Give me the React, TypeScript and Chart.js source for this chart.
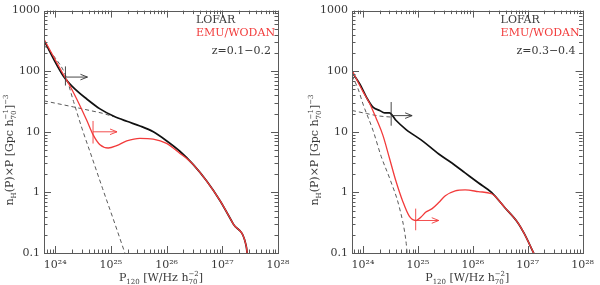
import React, { useEffect, useRef } from 'react';
import { Chart, registerables } from 'chart.js';

Chart.register(...registerables);

// ---------- axis ranges & tick labels ----------
const X_MIN = 6.31e23;
const X_MAX = 1e28;
const Y_MIN = 0.1;
const Y_MAX = 1000;
const xTickValues = [1e24, 1e25, 1e26, 1e27, 1e28];
const xTickLabels = ['10²⁴', '10²⁵', '10²⁶', '10²⁷', '10²⁸'];
const yTickValues = [0.1, 1, 10, 100, 1000];
const yTickLabels = ['0.1', '1', '10', '100', '1000'];

// ---------- panel 1 : z = 0.1-0.2 ----------
const lofarP_z1 = [6.31e23, 1.40e24, 2.44e24, 3.69e24, 6.38e24, 1.11e25, 1.93e25, 3.33e25, 5.78e25, 1.01e26, 1.75e26, 3.02e26, 5.25e26, 9.12e26, 1.58e27, 2.7e27, 2.8e27];
const lofarN_z1 = [321, 83.5, 47.7, 34.8, 23.9, 18.2, 14.9, 12.5, 10.0, 7.06, 4.73, 2.87, 1.54, 0.73, 0.30, 0.127, 0.098];
const emuP_z1 = [6.31e23, 1.40e24, 1.85e24, 2.79e24, 3.69e24, 4.84e24, 6.38e24, 9.0e24, 1.27e25, 1.93e25, 3.31e25, 5.75e25, 1.0e26, 1.74e26, 2.5e26, 3.02e26, 5.25e26, 9.12e26, 1.58e27, 2.7e27, 2.8e27];
const emuN_z1 = [337, 89, 57, 27, 15.5, 8.8, 6.1, 5.4, 5.9, 7.06, 7.8, 7.6, 6.45, 4.4, 3.4, 2.87, 1.54, 0.73, 0.30, 0.127, 0.098];
const steepP_z1 = [6.31e23, 1e24, 1.51e24, 2.14e24, 3.02e24, 4.57e24, 7.08e24, 1.12e25, 1.82e25];
const steepN_z1 = [269, 166, 89, 31.6, 11.5, 3.8, 1.17, 0.35, 0.095];
const flatP_z1 = [6.31e23, 2.14e24, 4.27e24, 7.41e24, 1.1e25];
const flatN_z1 = [32.4, 25.7, 22.4, 20, 17.8];
const markers_z1 = [
  { x: 1.53e24, y: 80, xEnd: 3.8e24, yLo: 58, yHi: 120, red: false },
  { x: 4.79e24, y: 10, xEnd: 1.29e25, yLo: 6.4, yHi: 15.1, red: true },
];

// ---------- panel 2 : z = 0.3-0.4 ----------
const lofarP_z2 = [6.31e23, 8.79e23, 1.16e24, 1.52e24, 2.01e24, 2.47e24, 3.03e24, 3.98e24, 6.03e24, 1.26e25, 2.4e25, 4.17e25, 7.24e25, 1.26e26, 2.19e26, 3.78e26, 6.56e26, 8.63e26, 1.31e27];
const lofarN_z2 = [97, 61, 37, 25.5, 22.5, 20.6, 20.6, 15.5, 11, 6.9, 4.3, 3.06, 2.1, 1.44, 1.0, 0.57, 0.32, 0.21, 0.096];
const emuP_z2 = [6.31e23, 1.0e24, 1.33e24, 1.75e24, 2.3e24, 3.03e24, 3.98e24, 5.25e24, 6.92e24, 9.12e24, 1.2e25, 1.38e25, 1.82e25, 2.4e25, 3.16e25, 4.79e25, 7.24e25, 1.26e26, 2.19e26, 2.51e26, 3.78e26, 6.56e26, 8.63e26, 1.31e27];
const emuN_z2 = [103, 46, 29, 16.4, 8.8, 3.7, 1.54, 0.73, 0.41, 0.344, 0.41, 0.47, 0.54, 0.68, 0.88, 1.06, 1.1, 1.03, 0.95, 0.87, 0.57, 0.32, 0.21, 0.096];
const steepP_z2 = [6.31e23, 8.18e23, 1.0e24, 1.52e24, 2.15e24, 3.16e24, 4.59e24, 6.05e24, 6.4e24];
const steepN_z2 = [84, 50.6, 28.8, 10.6, 3.9, 1.58, 0.57, 0.16, 0.095];
const flatP_z2 = [6.31e23, 1.16e24, 2.0e24, 3.26e24];
const flatN_z2 = [22.5, 20, 18.2, 17.5];
const markers_z2 = [
  { x: 3.26e24, y: 18.5, xEnd: 7.85e24, yLo: 12.6, yHi: 31, red: false },
  { x: 9.12e24, y: 0.344, xEnd: 2.4e25, yLo: 0.237, yHi: 0.54, red: true },
];

// ---------- styles ----------
const FONT = '"DejaVu Serif", serif';
const AXIS_COLOR = '#5a5a5a';
const TEXT_COLOR = '#3a3a3a';
const RED = '#f23b3b';
const BLACK = '#111111';
const DASH = '#5a5a5a';

type Seg = { t: string; sub?: string; sup?: string };
const xTitle: Seg[] = [{ t: 'P', sub: '120' }, { t: ' [W/Hz h', sub: '70', sup: '−2' }, { t: ']' }];
const yTitle: Seg[] = [{ t: 'n', sub: 'H' }, { t: '(P)×P [Gpc h', sub: '70', sup: '−1' }, { t: ']', sup: '−3' }];

function richWidth(ctx: CanvasRenderingContext2D, segs: Seg[], size: number) {
  let w = 0;
  for (const s of segs) {
    ctx.font = `${size}px ${FONT}`;
    w += ctx.measureText(s.t).width;
    ctx.font = `${Math.round(size * 0.68)}px ${FONT}`;
    const a = s.sub ? ctx.measureText(s.sub).width : 0;
    const b = s.sup ? ctx.measureText(s.sup).width : 0;
    w += Math.max(a, b);
  }
  return w;
}

function drawRich(ctx: CanvasRenderingContext2D, segs: Seg[], cx: number, y: number, size: number) {
  let x = cx - richWidth(ctx, segs, size) / 2;
  ctx.textAlign = 'left';
  ctx.textBaseline = 'alphabetic';
  for (const s of segs) {
    ctx.font = `${size}px ${FONT}`;
    ctx.fillText(s.t, x, y);
    x += ctx.measureText(s.t).width;
    ctx.font = `${Math.round(size * 0.68)}px ${FONT}`;
    let w = 0;
    if (s.sub) { ctx.fillText(s.sub, x, y + size * 0.3); w = ctx.measureText(s.sub).width; }
    if (s.sup) { ctx.fillText(s.sup, x, y - size * 0.42); w = Math.max(w, ctx.measureText(s.sup).width); }
    x += w;
  }
}

type PanelCfg = {
  lofarP: number[]; lofarN: number[]; emuP: number[]; emuN: number[];
  steepP: number[]; steepN: number[]; flatP: number[]; flatN: number[];
  markers: { x: number; y: number; xEnd: number; yLo: number; yHi: number; red: boolean }[];
  zLabel: string; yAxisWidth: number; padRight: number; yTitleX: number;
};

const pairs = (xs: number[], ys: number[]) => xs.map((x, i) => ({ x, y: ys[i] }));

function makePlugin(cfg: PanelCfg) {
  return {
    id: 'decor',
    afterDraw(chart: any) {
      const ctx: CanvasRenderingContext2D = chart.ctx;
      const { left, right, top, bottom } = chart.chartArea;
      const xs = chart.scales.x;
      const ys = chart.scales.y;
      ctx.save();
      // frame
      ctx.strokeStyle = AXIS_COLOR;
      ctx.lineWidth = 1;
      ctx.strokeRect(Math.round(left) + 0.5, Math.round(top) + 0.5, Math.round(right - left), Math.round(bottom - top));
      // inward ticks on four sides
      ctx.beginPath();
      for (let e = 23; e <= 28; e++) {
        for (let m = 1; m <= 9; m++) {
          const v = m * Math.pow(10, e);
          if (v < X_MIN * 0.999 || v > X_MAX * 1.001) continue;
          const px = Math.round(xs.getPixelForValue(v)) + 0.5;
          const len = m === 1 ? 7 : 3.5;
          ctx.moveTo(px, bottom); ctx.lineTo(px, bottom - len);
          ctx.moveTo(px, top); ctx.lineTo(px, top + len);
        }
      }
      for (let e = -1; e <= 3; e++) {
        for (let m = 1; m <= 9; m++) {
          const v = m * Math.pow(10, e);
          if (v < Y_MIN * 0.999 || v > Y_MAX * 1.001) continue;
          const py = Math.round(ys.getPixelForValue(v)) + 0.5;
          const len = m === 1 ? 7 : 3.5;
          ctx.moveTo(left, py); ctx.lineTo(left + len, py);
          ctx.moveTo(right, py); ctx.lineTo(right - len, py);
        }
      }
      ctx.stroke();
      // limit markers with arrows
      for (const mk of cfg.markers) {
        const x0 = xs.getPixelForValue(mk.x);
        const x1 = xs.getPixelForValue(mk.xEnd);
        const y0 = ys.getPixelForValue(mk.y);
        ctx.strokeStyle = mk.red ? RED : '#333';
        ctx.lineWidth = 0.9;
        ctx.beginPath();
        ctx.moveTo(x0, ys.getPixelForValue(mk.yHi));
        ctx.lineTo(x0, ys.getPixelForValue(mk.yLo));
        ctx.moveTo(x0, y0);
        ctx.lineTo(x1, y0);
        ctx.moveTo(x1 - 7, y0 - 2.8);
        ctx.lineTo(x1, y0);
        ctx.lineTo(x1 - 7, y0 + 2.8);
        ctx.stroke();
      }
      // legend texts
      ctx.textBaseline = 'alphabetic';
      ctx.font = `11px ${FONT}`;
      const emuW = ctx.measureText('EMU/WODAN').width;
      const lx = right - 3 - emuW;
      ctx.textAlign = 'left';
      ctx.fillStyle = TEXT_COLOR;
      ctx.fillText('LOFAR', lx, top + 12);
      ctx.fillStyle = RED;
      ctx.fillText('EMU/WODAN', lx, top + 25);
      ctx.fillStyle = TEXT_COLOR;
      ctx.textAlign = 'right';
      ctx.fillText(cfg.zLabel, right - 7, top + 43);
      // axis titles
      ctx.fillStyle = TEXT_COLOR;
      drawRich(ctx, xTitle, (left + right) / 2, 281, 11);
      ctx.translate(cfg.yTitleX, 150);
      ctx.rotate(-Math.PI / 2);
      drawRich(ctx, yTitle, 0, 4, 11);
      ctx.restore();
    },
  };
}

function Panel({ cfg }: { cfg: PanelCfg }) {
  const ref = useRef<HTMLCanvasElement | null>(null);
  useEffect(() => {
    if (!ref.current) return;
    const chart = new Chart(ref.current, {
      type: 'line',
      data: {
        datasets: [
          { data: pairs(cfg.emuP, cfg.emuN), borderColor: RED, borderWidth: 1.3, pointRadius: 0, cubicInterpolationMode: 'monotone', fill: false },
          { data: pairs(cfg.lofarP, cfg.lofarN), borderColor: BLACK, borderWidth: 1.7, pointRadius: 0, cubicInterpolationMode: 'monotone', fill: false },
          { data: pairs(cfg.steepP, cfg.steepN), borderColor: DASH, borderWidth: 1, borderDash: [4, 3], pointRadius: 0, cubicInterpolationMode: 'monotone', fill: false },
          { data: pairs(cfg.flatP, cfg.flatN), borderColor: DASH, borderWidth: 1, borderDash: [4, 3], pointRadius: 0, cubicInterpolationMode: 'monotone', fill: false },
        ],
      } as any,
      options: {
        animation: false,
        responsive: false,
        devicePixelRatio: 1,
        parsing: false as any,
        layout: { padding: { left: 0, right: cfg.padRight, top: 7, bottom: 0 } },
        plugins: { legend: { display: false }, tooltip: { enabled: false } },
        scales: {
          x: {
            type: 'logarithmic',
            min: X_MIN,
            max: X_MAX,
            grid: { display: false, drawTicks: false },
            border: { display: false },
            afterBuildTicks: (s: any) => { s.ticks = xTickValues.map((v) => ({ value: v, major: true })); },
            afterFit: (s: any) => { s.height = 32; },
            ticks: {
              autoSkip: false,
              maxRotation: 0,
              padding: 6,
              color: TEXT_COLOR,
              font: { family: FONT, size: 11 },
              callback: (v: any) => {
                const i = xTickValues.findIndex((t) => Math.abs(Math.log10(t) - Math.log10(Number(v))) < 1e-6);
                return i >= 0 ? xTickLabels[i] : '';
              },
            },
          },
          y: {
            type: 'logarithmic',
            min: Y_MIN,
            max: Y_MAX,
            grid: { display: false, drawTicks: false },
            border: { display: false },
            afterBuildTicks: (s: any) => { s.ticks = yTickValues.map((v) => ({ value: v, major: true })); },
            afterFit: (s: any) => { s.width = cfg.yAxisWidth; },
            ticks: {
              autoSkip: false,
              padding: 4,
              color: TEXT_COLOR,
              font: { family: FONT, size: 11 },
              callback: (v: any) => {
                const i = yTickValues.findIndex((t) => Math.abs(Math.log10(t) - Math.log10(Number(v))) < 1e-6);
                return i >= 0 ? yTickLabels[i] : '';
              },
            },
          },
        },
      } as any,
      plugins: [makePlugin(cfg)],
    });
    return () => chart.destroy();
  }, [cfg]);
  return <canvas ref={ref} width={300} height={285} style={{ display: 'block', width: 300, height: 285 }} />;
}

const panel1: PanelCfg = {
  lofarP: lofarP_z1, lofarN: lofarN_z1, emuP: emuP_z1, emuN: emuN_z1,
  steepP: steepP_z1, steepN: steepN_z1, flatP: flatP_z1, flatN: flatN_z1,
  markers: markers_z1, zLabel: 'z=0.1−0.2', yAxisWidth: 44, padRight: 22, yTitleX: 9,
};
const panel2: PanelCfg = {
  lofarP: lofarP_z2, lofarN: lofarN_z2, emuP: emuP_z2, emuN: emuN_z2,
  steepP: steepP_z2, steepN: steepN_z2, flatP: flatP_z2, flatN: flatN_z2,
  markers: markers_z2, zLabel: 'z=0.3−0.4', yAxisWidth: 52, padRight: 14, yTitleX: 14,
};

export default function App() {
  return (
    <div style={{ position: 'absolute', left: 0, top: 0, width: 600, height: 285, background: '#fff', display: 'flex' }}>
      <Panel cfg={panel1} />
      <Panel cfg={panel2} />
    </div>
  );
}
